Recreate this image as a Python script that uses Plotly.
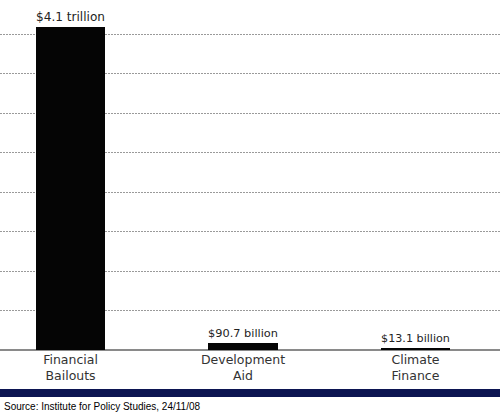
import plotly.graph_objects as go

# ── Data ──────────────────────────────────────────────────────────────────────
categories = ["Financial<br>Bailouts", "Development<br>Aid", "Climate<br>Finance"]
values_bn = [4100, 90.7, 13.1]          # billions of US$
value_labels = ["$4.1 trillion", "$90.7 billion", "$13.1 billion"]
grid_ticks = [500, 1000, 1500, 2000, 2500, 3000, 3500, 4000]
source_text = "Source: Institute for Policy Studies, 24/11/08"

FONT = "DejaVu Sans"

fig = go.Figure(
    go.Bar(
        x=list(range(len(categories))),
        y=values_bn,
        width=0.405,
        marker=dict(color="#050505", line=dict(width=0)),
        text=value_labels,
        textposition="outside",
        textfont=dict(family=FONT, size=12.5, color="#222"),
        cliponaxis=False,
        showlegend=False,
    )
)

# ── Layout ────────────────────────────────────────────────────────────────────
fig.update_layout(
    width=500, height=413,
    margin=dict(l=0, r=0, t=0, b=63),
    plot_bgcolor="white",
    paper_bgcolor="white",
    bargap=0,
    xaxis=dict(
        range=[-0.409, 2.49],
        tickmode="array",
        tickvals=list(range(len(categories))),
        ticktext=categories,
        tickfont=dict(family=FONT, size=12.5, color="#333"),
        showgrid=False,
        showline=False,
        ticks="",
        zeroline=False,
        fixedrange=True,
    ),
    yaxis=dict(
        range=[0, 4437],
        tickvals=grid_ticks,
        showticklabels=False,
        showgrid=True,
        gridcolor="#9a9a9a",
        gridwidth=1,
        griddash="2px,1px",
        zeroline=True,
        zerolinecolor="#8a8a8a",
        zerolinewidth=1.5,
        fixedrange=True,
    ),
    shapes=[
        dict(type="rect", xref="paper", yref="paper",
             x0=0, x1=1, y0=-0.1343, y1=-0.1114,
             fillcolor="#0c1552", line=dict(width=0), layer="above"),
    ],
    annotations=[
        dict(text=source_text, xref="paper", yref="paper", x=0.004, y=-0.1386,
             xanchor="left", yanchor="top", showarrow=False,
             font=dict(family="Liberation Sans", size=10, color="#000")),
    ],
)

# page has a default body margin; remove it so the chart fills the window
fig.write_html("out.html", config={"displayModeBar": False},
               post_script="document.body.style.margin='0';")
